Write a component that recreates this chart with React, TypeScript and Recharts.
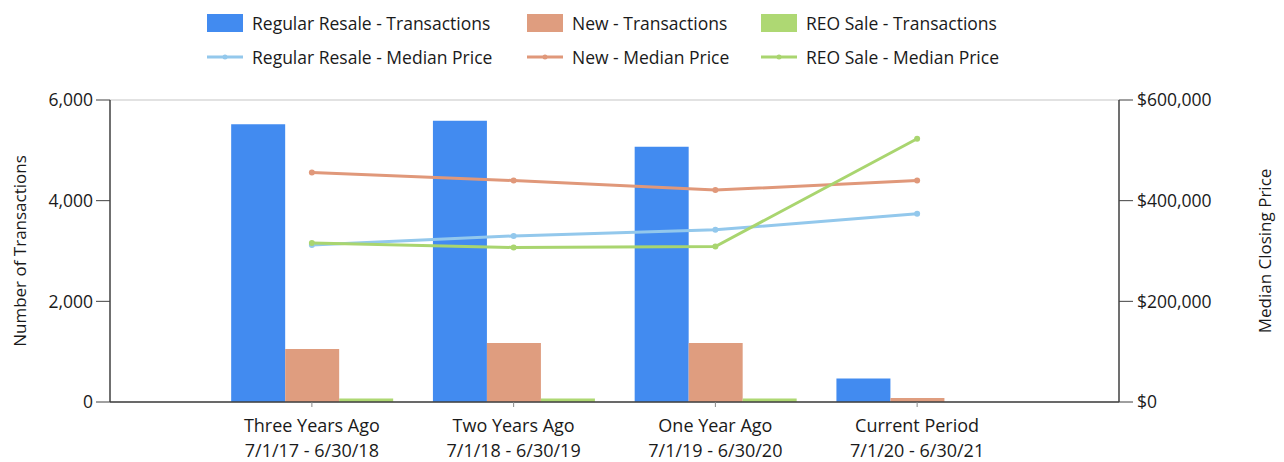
import React from "react";
import {
  ComposedChart,
  Bar,
  Line,
  XAxis,
  YAxis,
  CartesianGrid,
} from "recharts";

const categories = ["Three Years Ago", "Two Years Ago", "One Year Ago", "Current Period"];
const periods = ["7/1/17 - 6/30/18", "7/1/18 - 6/30/19", "7/1/19 - 6/30/20", "7/1/20 - 6/30/21"];

const resaleTx = [5520, 5590, 5070, 465];
const newTx = [1055, 1170, 1170, 80];
const reoTx = [70, 70, 70, 0];

const resalePrice = [312000, 330000, 342000, 374000];
const newPrice = [456000, 440000, 421000, 440000];
const reoPrice = [316000, 307000, 309000, 523000];

const leftTicks = [0, 2000, 4000, 6000];
const rightTicks = [0, 200000, 400000, 600000];

const FONT = "'Open Sans', sans-serif";
const TEXT = "#1a1a1a";
const AXIS = "#404040";

const C = {
  resaleBar: "#428bf0",
  newBar: "#df9d7f",
  reoBar: "#aed873",
  resaleLine: "#93c8ec",
  newLine: "#e0987a",
  reoLine: "#a9d56f",
};

const data = categories.map((name, i) => ({
  name,
  period: periods[i],
  resaleTx: resaleTx[i],
  newTx: newTx[i],
  reoTx: reoTx[i],
  resalePrice: resalePrice[i],
  newPrice: newPrice[i],
  reoPrice: reoPrice[i],
}));

const legendItems = [
  { label: "Regular Resale - Transactions", color: C.resaleBar, kind: "bar" },
  { label: "New - Transactions", color: C.newBar, kind: "bar" },
  { label: "REO Sale - Transactions", color: C.reoBar, kind: "bar" },
  { label: "Regular Resale - Median Price", color: C.resaleLine, kind: "line" },
  { label: "New - Median Price", color: C.newLine, kind: "line" },
  { label: "REO Sale - Median Price", color: C.reoLine, kind: "line" },
];

function LegendIcon({ color, kind }: { color: string; kind: string }) {
  if (kind === "bar") {
    return <div style={{ width: 36, height: 18, background: color }} />;
  }
  return (
    <svg width={36} height={18}>
      <line x1={0} y1={9} x2={36} y2={9} stroke={color} strokeWidth={3} />
      <circle cx={18} cy={9} r={2.5} fill={color} />
    </svg>
  );
}

function CategoryTick(props: any) {
  const { x, y, payload, index } = props;
  return (
    <text x={x} y={y} textAnchor="middle" fill={TEXT} fontSize={18} fontFamily={FONT}>
      <tspan x={x} dy={23}>{payload.value}</tspan>
      <tspan x={x} dy={25}>{periods[index]}</tspan>
    </text>
  );
}

function AxisTitle({ x, y, text }: { x: number; y: number; text: string }) {
  return (
    <text
      x={x}
      y={y}
      transform={`rotate(-90, ${x}, ${y})`}
      textAnchor="middle"
      dominantBaseline="central"
      fill={TEXT}
      fontSize={17}
      fontFamily={FONT}
    >
      {text}
    </text>
  );
}

export default function App() {
  const tickStyle = { fill: TEXT, fontSize: 17.5, fontFamily: FONT };
  return (
    <div style={{ position: "fixed", left: 0, top: 0, width: 1284, height: 462, background: "#fff" }}>
      <div
        style={{
          position: "absolute",
          left: 207,
          top: 6,
          display: "grid",
          gridTemplateColumns: "320px 234px 270px",
          gridAutoRows: "34px",
          fontFamily: FONT,
          fontSize: 17.5,
          color: TEXT,
        }}
      >
        {legendItems.map((it) => (
          <div key={it.label} style={{ display: "flex", alignItems: "center", gap: 9 }}>
            <LegendIcon color={it.color} kind={it.kind} />
            <span>{it.label}</span>
          </div>
        ))}
      </div>
      <ComposedChart
        width={1284}
        height={462}
        data={data}
        margin={{ top: 100, right: 0, bottom: 0, left: 0 }}
        barCategoryGap="10%"
        barGap={0}
        style={{ position: "absolute", left: 0, top: 0 }}
      >
        <CartesianGrid horizontal vertical={false} stroke="#e2e2e2" strokeWidth={2} />
        <XAxis
          dataKey="name"
          height={60}
          padding={{ left: 101, right: 101 }}
          tick={<CategoryTick />}
          tickSize={5}
          tickLine={{ stroke: "#888" }}
          axisLine={{ stroke: AXIS, strokeWidth: 1.5 }}
          interval={0}
        />
        <YAxis
          yAxisId="left"
          width={110}
          domain={[0, 6000]}
          ticks={leftTicks}
          tickFormatter={(v: number) => v.toLocaleString("en-US")}
          tick={tickStyle}
          tickSize={14}
          tickMargin={3}
          tickLine={{ stroke: AXIS }}
          axisLine={{ stroke: AXIS, strokeWidth: 1.5 }}
          label={{ content: () => <AxisTitle x={19} y={251} text="Number of Transactions" /> }}
        />
        <YAxis
          yAxisId="right"
          orientation="right"
          width={165}
          domain={[0, 600000]}
          ticks={rightTicks}
          tickFormatter={(v: number) => "$" + v.toLocaleString("en-US")}
          tick={{ ...tickStyle, textAnchor: "start" }}
          tickSize={14}
          tickMargin={4}
          tickLine={{ stroke: AXIS }}
          axisLine={{ stroke: AXIS, strokeWidth: 1.5 }}
          label={{ content: () => <AxisTitle x={1264} y={251} text="Median Closing Price" /> }}
        />
        <Bar yAxisId="left" dataKey="resaleTx" fill={C.resaleBar} isAnimationActive={false} />
        <Bar yAxisId="left" dataKey="newTx" fill={C.newBar} isAnimationActive={false} />
        <Bar yAxisId="left" dataKey="reoTx" fill={C.reoBar} isAnimationActive={false} />
        <Line
          yAxisId="right"
          dataKey="resalePrice"
          stroke={C.resaleLine}
          strokeWidth={3}
          dot={{ r: 3, fill: C.resaleLine, stroke: C.resaleLine, strokeWidth: 0 }}
          isAnimationActive={false}
        />
        <Line
          yAxisId="right"
          dataKey="newPrice"
          stroke={C.newLine}
          strokeWidth={3}
          dot={{ r: 3, fill: C.newLine, stroke: C.newLine, strokeWidth: 0 }}
          isAnimationActive={false}
        />
        <Line
          yAxisId="right"
          dataKey="reoPrice"
          stroke={C.reoLine}
          strokeWidth={3}
          dot={{ r: 3, fill: C.reoLine, stroke: C.reoLine, strokeWidth: 0 }}
          isAnimationActive={false}
        />
      </ComposedChart>
    </div>
  );
}
